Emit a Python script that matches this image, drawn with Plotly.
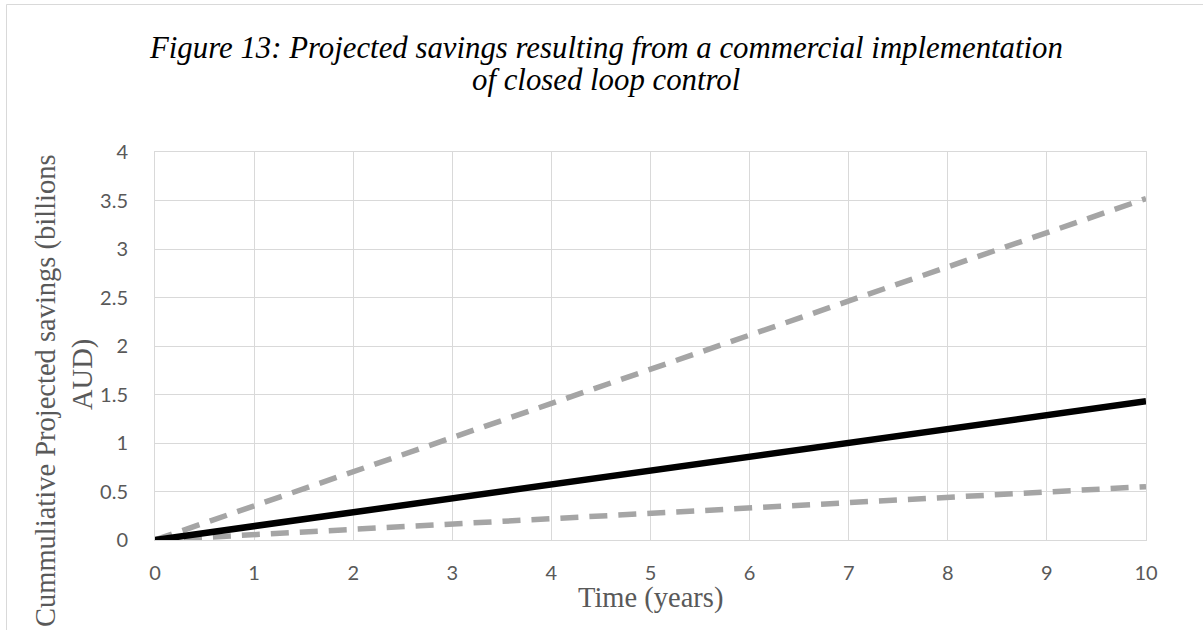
import plotly.graph_objects as go

years = [0, 1, 2, 3, 4, 5, 6, 7, 8, 9, 10]
upper_savings = [0, 0.352, 0.704, 1.056, 1.408, 1.76, 2.112, 2.464, 2.816, 3.168, 3.52]
central_savings = [0, 0.143, 0.286, 0.429, 0.572, 0.715, 0.858, 1.001, 1.144, 1.287, 1.43]
lower_savings = [0, 0.055, 0.11, 0.165, 0.22, 0.275, 0.33, 0.385, 0.44, 0.495, 0.55]

title_line1 = "Figure 13: Projected savings resulting from a commercial implementation"
title_line2 = "of closed loop control"
x_title = "Time (years)"
y_title_line1 = "Cummuliative Projected savings (billions"
y_title_line2 = "AUD)"

W, H = 1203, 630
L, R, T, B = 155, 1146, 152, 540
pw, ph = R - L, B - T

def px_x(px):
    return (px - L) / pw

def px_y(py):
    return (B - py) / ph

serif = "Liberation Serif, Times New Roman, serif"
gray_text = "#595959"
tick_font = dict(family="Lato, Carlito, sans-serif", size=20, color=gray_text)

fig = go.Figure()
fig.add_trace(go.Scatter(x=years, y=upper_savings, mode="lines",
                         line=dict(color="#a5a5a5", width=5.5, dash="18px,11px"),
                         name="Upper"))
fig.add_trace(go.Scatter(x=years, y=lower_savings, mode="lines",
                         line=dict(color="#a5a5a5", width=5.5, dash="18px,11px"),
                         name="Lower"))
fig.add_trace(go.Scatter(x=years, y=central_savings, mode="lines",
                         line=dict(color="#000000", width=6.5),
                         name="Central"))

def ann(text, x, y, size, color, angle=0):
    return dict(text=text, xref="paper", yref="paper", x=px_x(x), y=px_y(y),
                xanchor="center", yanchor="middle", showarrow=False, textangle=angle,
                font=dict(family=serif, size=size, color=color))

fig.update_layout(
    width=W, height=H,
    margin=dict(l=L, r=W - R, t=T, b=H - B, pad=0),
    paper_bgcolor="white", plot_bgcolor="white",
    showlegend=False,
    xaxis=dict(range=[0, 10], dtick=1, tick0=0, showgrid=True, gridcolor="#d9d9d9", gridwidth=1,
               zeroline=False, showline=True, linecolor="#d9d9d9", linewidth=1, mirror=True,
               ticks="", ticklabelstandoff=15, tickfont=tick_font),
    yaxis=dict(range=[0, 4], dtick=0.5, tick0=0, showgrid=True, gridcolor="#d9d9d9", gridwidth=1,
               zeroline=False, showline=True, linecolor="#d9d9d9", linewidth=1, mirror=True,
               ticks="", ticklabelstandoff=22, tickfont=tick_font),
    shapes=[dict(type="rect", xref="paper", yref="paper",
                 x0=px_x(6.5), x1=px_x(1215), y0=px_y(645), y1=px_y(4.5),
                 line=dict(color="#d9d9d9", width=1), fillcolor="rgba(0,0,0,0)", layer="below")],
    annotations=[
        ann("<i>" + title_line1 + "</i>", 606, 48, 30.8, "black"),
        ann("<i>" + title_line2 + "</i>", 606, 80, 30.8, "black"),
        ann(x_title, 650, 598, 28.5, gray_text),
        ann(y_title_line1, 46, 391, 28.5, gray_text, -90),
        ann(y_title_line2, 83, 375, 28.5, gray_text, -90),
    ],
)

fig.write_html("out.html", config={"displayModeBar": False},
               post_script="document.body.style.margin='0px';document.body.style.padding='0px';")
